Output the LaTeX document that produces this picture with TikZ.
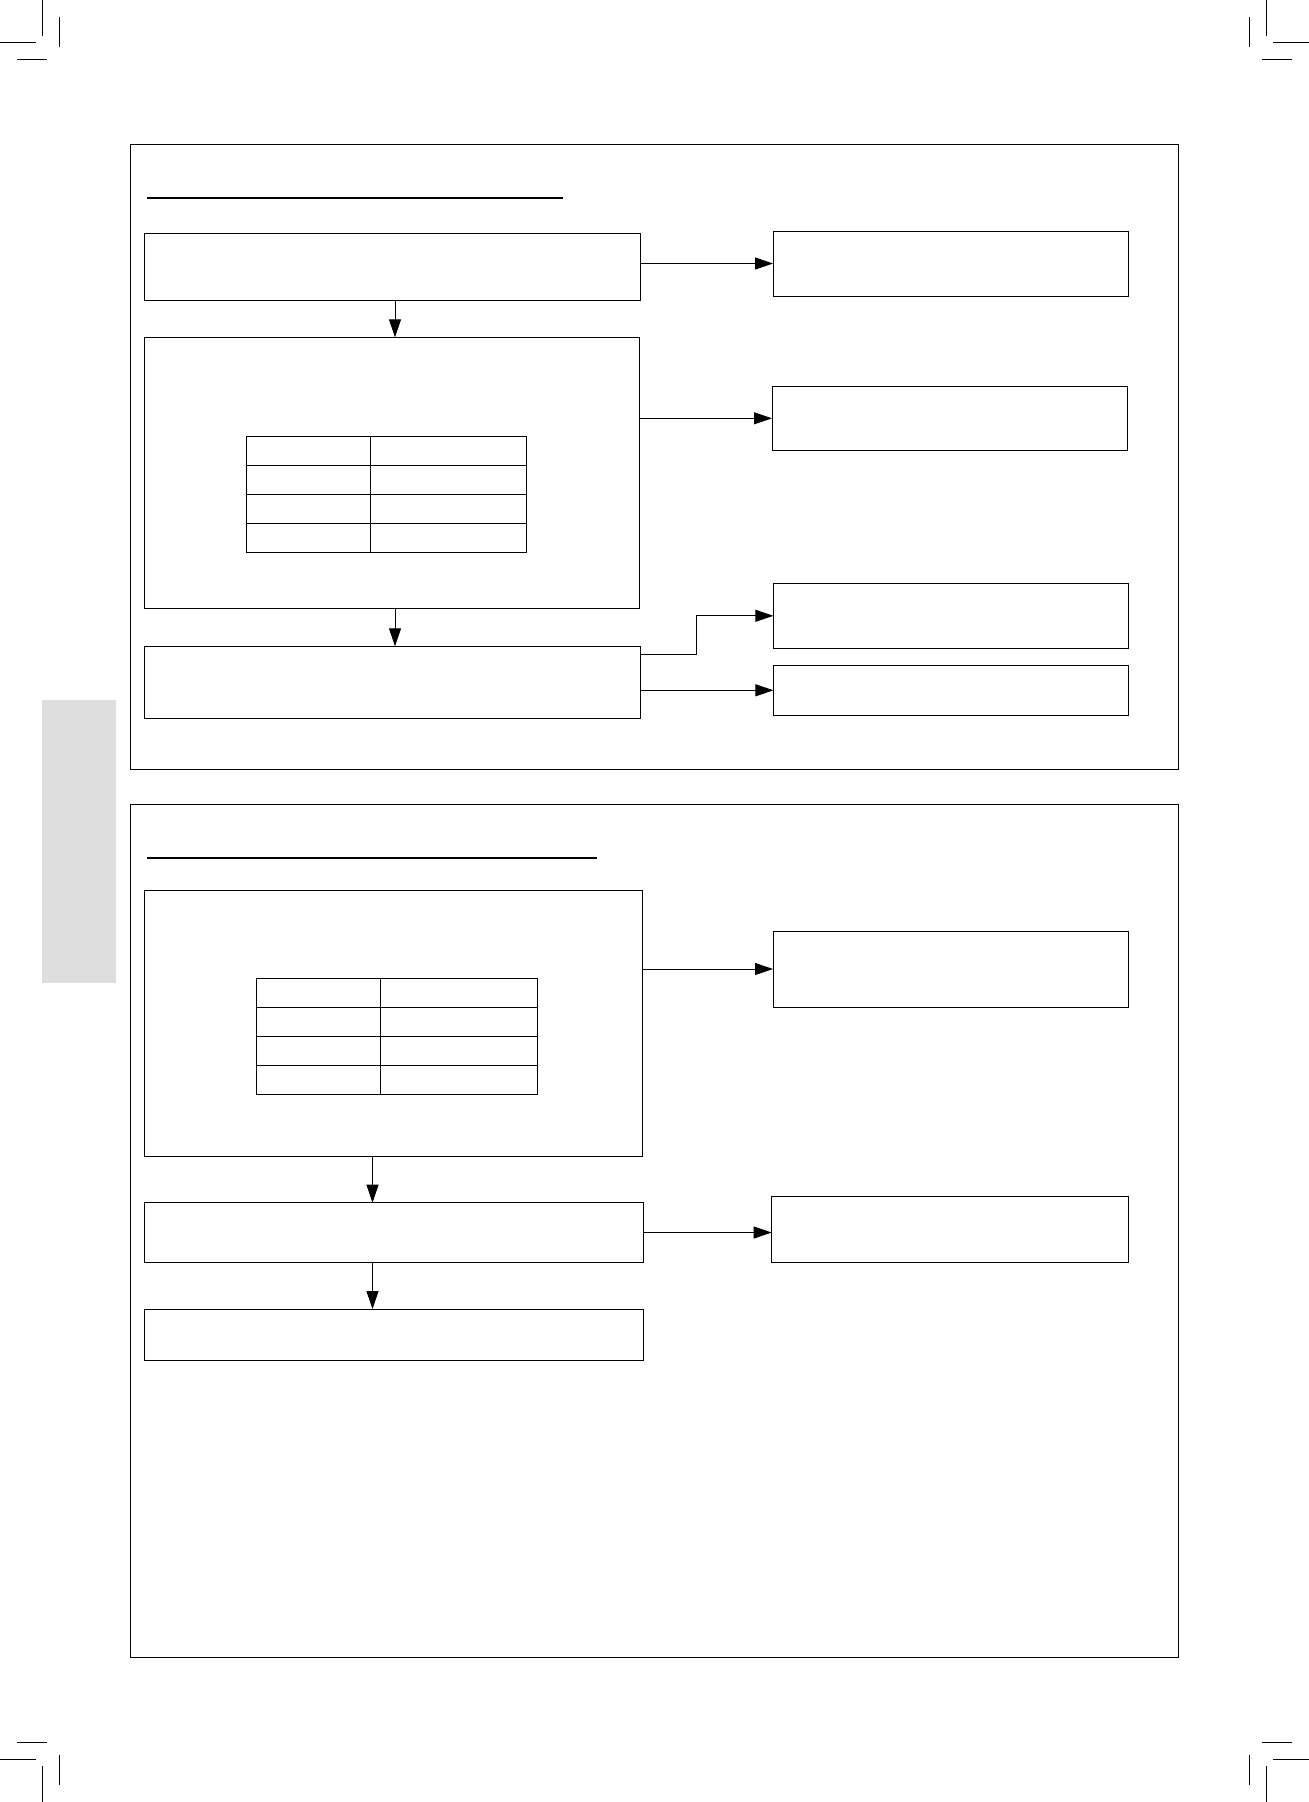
\documentclass[tikz,border=0pt]{standalone}
\usetikzlibrary{arrows.meta}
\definecolor{tabgray}{RGB}{222,222,222}
\tikzset{
  blk/.style={draw, line width=1pt, anchor=north west, inner sep=0pt, outer sep=0pt},
  flow/.style={-{Triangle[length=18pt,width=12pt]}, line width=0.9pt},
}
\begin{document}
\begin{tikzpicture}[x=1pt,y=1pt,yscale=-1,xscale=1]
\useasboundingbox (0,0) rectangle (1309,1802);
%Crop marks
\foreach \cx/\cy/\sx/\sy in {0/0/1/1,1309/0/-1/1,0/1802/1/-1,1309/1802/-1/-1}{
  \begin{scope}[shift={(\cx,\cy)},xscale=\sx,yscale=\sy,line width=1pt]
    \draw (42.3,0) -- (42.3,35.7);
    \draw (0,42.3) -- (35.7,42.3);
    \draw (59.3,17) -- (59.3,46.7);
    \draw (17,59.3) -- (46.7,59.3);
  \end{scope}
}
%Shape: Side tab
\fill [tabgray] (42,700) rectangle (116,982.7);

%Shape: Frames
\draw [line width=1pt] (130,144) rectangle (1178.3,769.3);
\draw [line width=1pt] (130,804.3) rectangle (1178.3,1657.3);
%Straight Lines: headings
\draw [line width=2pt] (146.5,197.7) -- (563,197.7);
\draw [line width=2pt] (146.5,857.7) -- (597,857.7);

% Upper chart
\node [blk, minimum width=496.4, minimum height=67] (b1) at (144.3,233.3) {};
\node [blk, minimum width=495.1, minimum height=271] (b2) at (144.3,337.3) {};
\node [blk, minimum width=496.6, minimum height=71.7] (b3) at (144,646.3) {};
\node [blk, minimum width=355.6, minimum height=65] (o1) at (773,231) {};
\node [blk, minimum width=355.5, minimum height=64] (o2) at (772,386.3) {};
\node [blk, minimum width=355.1, minimum height=65] (o3) at (773.4,583.3) {};
\node [blk, minimum width=355.1, minimum height=50] (o4) at (773.4,665.3) {};
%Table in b2
\draw [line width=1pt] (246,436.3) rectangle (526.4,552.3);
\draw [line width=1pt] (370.2,436.3) -- (370.2,552.3);
\foreach \r in {1,2,3}
  \draw [line width=1pt] (246,436.3+29*\r) -- (526.4,436.3+29*\r);

\coordinate (bcol) at (395,0);
\coordinate (k1) at (640.6,654.3);
\draw [flow] (b1.east |- o1.west) -- (o1.west);
\draw [flow] (b1.south -| bcol) -- (b2.north -| bcol);
\draw [flow] (b2.east |- o2.west) -- (o2.west);
\draw [flow] (b2.south -| bcol) -- (b3.north -| bcol);
\draw [flow] (k1) -- (696,654.3) |- (o3.west);
\draw [flow] (b3.east |- o4.west) -- (o4.west);

% Lower chart
\node [blk, minimum width=498.2, minimum height=266.5] (d1) at (144.3,890.3) {};
\node [blk, minimum width=499, minimum height=59.6] (d2) at (144,1202.7) {};
\node [blk, minimum width=499, minimum height=51.3] (d3) at (144,1309) {};
\node [blk, minimum width=355.6, minimum height=76] (p1) at (773,931) {};
\node [blk, minimum width=356.3, minimum height=66] (p2) at (771.7,1196.3) {};
%Table in d1
\draw [line width=1pt] (256.3,978.3) rectangle (537.6,1094.3);
\draw [line width=1pt] (380.4,978.3) -- (380.4,1094.3);
\foreach \r in {1,2,3}
  \draw [line width=1pt] (256.3,978.3+29*\r) -- (537.6,978.3+29*\r);

\coordinate (dcol) at (372.5,0);
\draw [flow] (d1.east |- p1.west) -- (p1.west);
\draw [flow] (d1.south -| dcol) -- (d2.north -| dcol);
\draw [flow] (d2.east) -- (d2.east -| p2.west);
\draw [flow] (d2.south -| dcol) -- (d3.north -| dcol);
\end{tikzpicture}
\end{document}
